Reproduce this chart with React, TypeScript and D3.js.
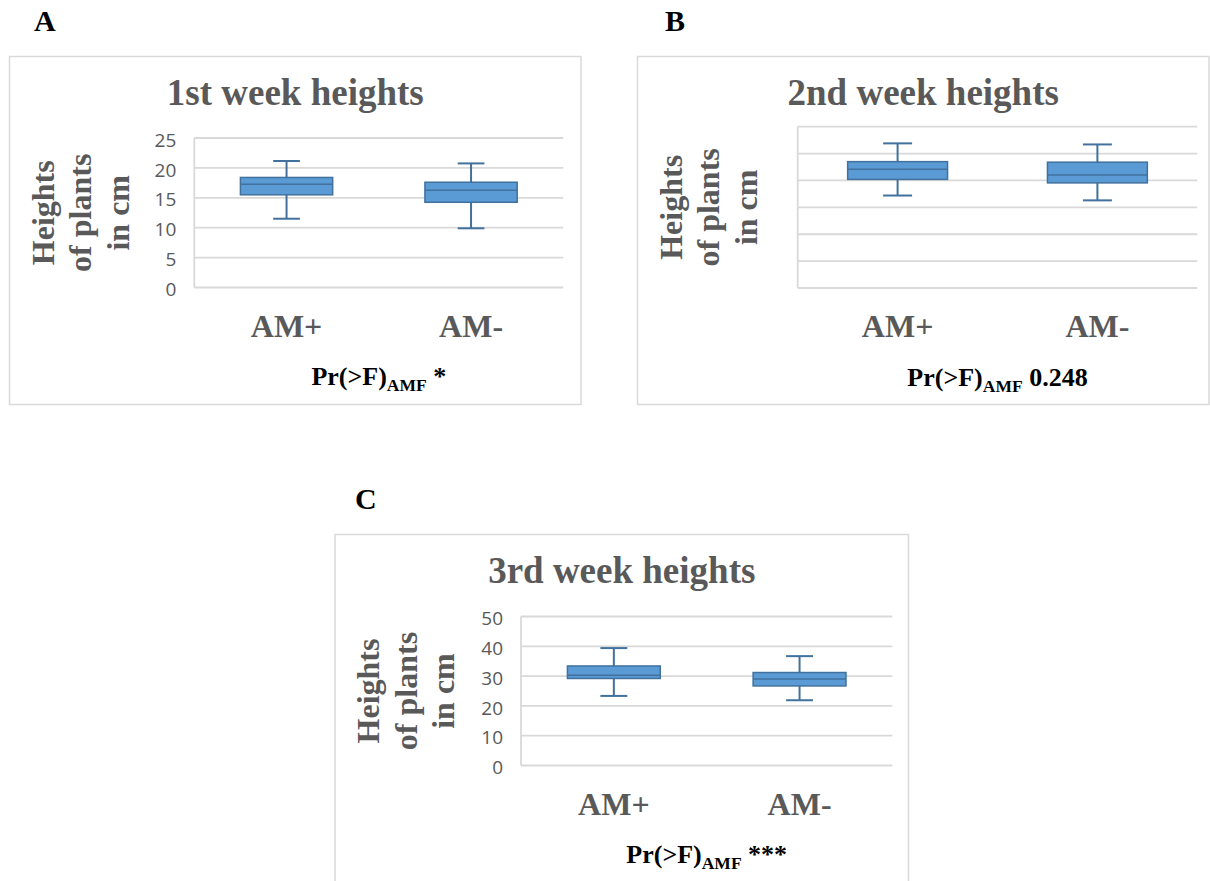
import * as d3 from 'd3';
import React, { useRef, useEffect } from 'react';

// box stats as [min, q1, median, q3, max]
const categories = ["AM+", "AM-"];
const week1AMplus = [11.5, 15.5, 17.25, 18.4, 21.15];
const week1AMminus = [9.9, 14.25, 16.25, 17.6, 20.75];
const week2AMplus = [17.2, 20.2, 22.1, 23.5, 26.9];
const week2AMminus = [16.3, 19.55, 21.0, 23.4, 26.7];
const week3AMplus = [23.35, 29.2, 30.3, 33.4, 39.4];
const week3AMminus = [21.9, 26.7, 29.0, 31.2, 36.7];

const week1Ticks = [0, 5, 10, 15, 20, 25];
const week2Ticks = [0, 5, 10, 15, 20, 25, 30];
const week3Ticks = [0, 10, 20, 30, 40, 50];

const titles = ["1st week heights", "2nd week heights", "3rd week heights"];
const letters = ["A", "B", "C"];
const pValues = ["*", "0.248", "***"];
const yLabelLines = ["Heights", "of plants", "in cm"];

const serif = "'Liberation Serif', 'Times New Roman', serif";
const sans = "'Open Sans', 'Noto Sans', sans-serif";
const grey = "#595959";

// layout of the three panels (frame, plot area, letter position)
const panels = [
    { stats: [week1AMplus, week1AMminus], ticks: week1Ticks, showTicks: true,
      frame: [9.5, 56.5, 571.5, 348], plot: [194.3, 563.3, 138, 287.5], letter: [34, 30.7] },
    { stats: [week2AMplus, week2AMminus], ticks: week2Ticks, showTicks: false,
      frame: [637.5, 56.5, 571.5, 348], plot: [797.7, 1197.3, 126.7, 288], letter: [665, 30.7] },
    { stats: [week3AMplus, week3AMminus], ticks: week3Ticks, showTicks: true,
      frame: [335, 534.5, 573.5, 400], plot: [521, 892.4, 616.5, 765.5], letter: [355, 509.3] },
];

function App() {
    const ref = useRef(null);

    useEffect(() => {
        const svg = d3.select(ref.current);
        svg.selectAll("*").remove();

        panels.forEach((p, i) => {
            const [fx, fy, fw, fh] = p.frame;
            const [x0, x1, yTop, yBot] = p.plot;
            const g = svg.append("g");

            g.append("text")
                .attr("x", p.letter[0]).attr("y", p.letter[1])
                .attr("font-family", serif).attr("font-weight", "bold")
                .attr("font-size", 30).attr("fill", "#000")
                .text(letters[i]);

            g.append("rect")
                .attr("x", fx).attr("y", fy).attr("width", fw).attr("height", fh)
                .attr("fill", "#fff").attr("stroke", "#d9d9d9").attr("stroke-width", 1.5);

            g.append("text")
                .attr("x", fx + fw / 2).attr("y", fy + 48.5)
                .attr("text-anchor", "middle")
                .attr("font-family", serif).attr("font-weight", "bold")
                .attr("font-size", 37).attr("fill", grey)
                .text(titles[i]);

            const x = d3.scaleBand().domain(categories).range([x0, x1]);
            const yMax = d3.max(p.ticks);
            const y = d3.scaleLinear().domain([0, yMax]).range([yBot, yTop]);

            g.selectAll(".grid").data(p.ticks).enter().append("line")
                .attr("x1", x0).attr("x2", x1)
                .attr("y1", d => y(d)).attr("y2", d => y(d))
                .attr("stroke", "#d9d9d9").attr("stroke-width", 1.8);

            g.append("line")
                .attr("x1", x0).attr("x2", x0).attr("y1", y(yMax)).attr("y2", y(0))
                .attr("stroke", "#d9d9d9").attr("stroke-width", 1.8);

            if (p.showTicks) {
                g.selectAll(".tick").data(p.ticks).enter().append("text")
                    .attr("x", x0 - 18).attr("y", d => y(d) + 2)
                    .attr("dy", "0.35em").attr("text-anchor", "end")
                    .attr("font-family", sans).attr("font-size", 19).attr("fill", grey)
                    .text(d => d);
            }

            // y axis label, three lines rotated
            const cy = (yTop + yBot) / 2;
            yLabelLines.forEach((line, k) => {
                const bx = fx + 44 + k * 37.5;
                g.append("text")
                    .attr("transform", `translate(${bx},${cy}) rotate(-90)`)
                    .attr("text-anchor", "middle")
                    .attr("font-family", serif).attr("font-weight", "bold")
                    .attr("font-size", 32).attr("fill", grey)
                    .text(line);
            });

            const bw = x.bandwidth();
            const boxW = bw * 0.5;
            const capW = bw * 0.145;
            const stroke = "#41719c";

            const boxes = g.selectAll(".box").data(p.stats).enter().append("g")
                .attr("transform", (d, j) => `translate(${x(categories[j]) + bw / 2},0)`);

            boxes.append("line")
                .attr("x1", 0).attr("x2", 0)
                .attr("y1", d => y(d[4])).attr("y2", d => y(d[0]))
                .attr("stroke", stroke).attr("stroke-width", 2);
            boxes.append("line")
                .attr("x1", -capW / 2).attr("x2", capW / 2)
                .attr("y1", d => y(d[4])).attr("y2", d => y(d[4]))
                .attr("stroke", stroke).attr("stroke-width", 2);
            boxes.append("line")
                .attr("x1", -capW / 2).attr("x2", capW / 2)
                .attr("y1", d => y(d[0])).attr("y2", d => y(d[0]))
                .attr("stroke", stroke).attr("stroke-width", 2);
            boxes.append("rect")
                .attr("x", -boxW / 2).attr("width", boxW)
                .attr("y", d => y(d[3])).attr("height", d => y(d[1]) - y(d[3]))
                .attr("fill", "#5b9bd5").attr("stroke", stroke).attr("stroke-width", 1.5);
            boxes.append("line")
                .attr("x1", -boxW / 2).attr("x2", boxW / 2)
                .attr("y1", d => y(d[2])).attr("y2", d => y(d[2]))
                .attr("stroke", stroke).attr("stroke-width", 1.5);

            g.selectAll(".xlab").data(categories).enter().append("text")
                .attr("x", d => x(d) + bw / 2).attr("y", yBot + 49.3)
                .attr("text-anchor", "middle")
                .attr("font-family", serif).attr("font-weight", "bold")
                .attr("font-size", 32).attr("fill", grey)
                .text(d => d);

            const pt = g.append("text")
                .attr("x", (x0 + x1) / 2).attr("y", yBot + 97.5)
                .attr("text-anchor", "middle")
                .attr("font-family", serif).attr("font-weight", "bold")
                .attr("font-size", 26).attr("fill", "#000");
            pt.append("tspan").text("Pr(>F)");
            pt.append("tspan").attr("font-size", 17.5).attr("dy", 6).text("AMF");
            pt.append("tspan").attr("dy", -6).text(" " + pValues[i]);
        });
    }, []);

    return (
        <div style={{ position: "absolute", left: 0, top: 0 }}>
            <svg ref={ref} width={1210} height={881} style={{ display: "block", background: "#fff" }}>
            </svg>
        </div>
    );
}

export default App;
